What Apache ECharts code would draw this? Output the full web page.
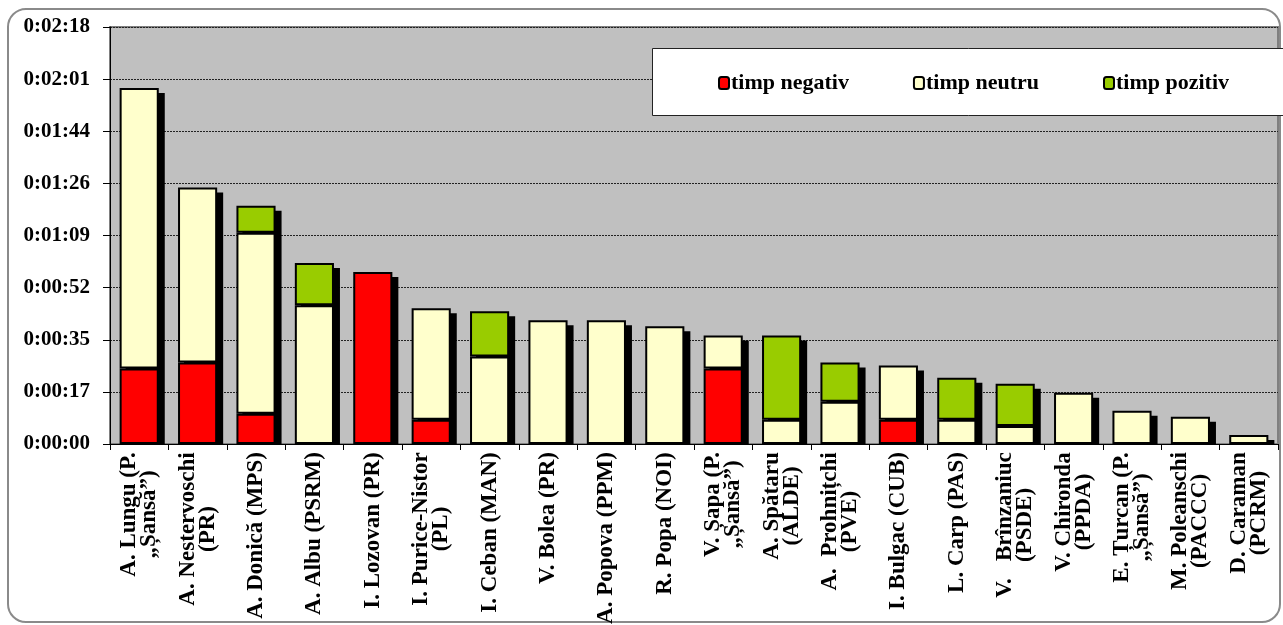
<!DOCTYPE html>
<html>
<head>
<meta charset="utf-8">
<script src="https://cdn.jsdelivr.net/npm/echarts@6/dist/echarts.min.js"></script>
<style>
html,body{margin:0;padding:0;background:#fff;}
#c{width:1283px;height:625px;}
</style>
</head>
<body>
<div id="c"></div>
<script>
const categories = ["A. Lungu (P.\n„Șansă”)", "A. Nestervoschi\n(PR)", "A. Donică (MPS)", "A. Albu (PSRM)", "I. Lozovan (PR)", "I. Purice-Nistor\n(PL)", "I. Ceban (MAN)", "V. Bolea (PR)", "A. Popova (PPM)", "R. Popa (NOI)", "V. Șapa (P.\n„Șansă”)", "A. Spătaru\n(ALDE)", "A.  Prohnițchi\n(PVE)", "I. Bulgac (CUB)", "L. Carp (PAS)", "V.   Brînzaniuc\n(PSDE)", "V. Chironda\n(PPDA)", "E. Țurcan (P.\n„Șansă”)", "M. Poleanschi\n(PACCC)", "D. Caraman\n(PCRM)"];
// seconds
const timpNegativ = [25, 27, 10, 0, 57, 8, 0, 0, 0, 0, 25, 0, 0, 8, 0, 0, 0, 0, 0, 0];
const timpNeutru  = [93, 58, 60, 46, 0, 37, 29, 41, 41, 39, 11, 8, 14, 18, 8, 6, 17, 11, 9, 3];
const timpPozitiv = [0, 0, 9, 14, 0, 0, 15, 0, 0, 0, 0, 28, 13, 0, 14, 14, 0, 0, 0, 0];
const yTickLabels = ["0:00:00", "0:00:17", "0:00:35", "0:00:52", "0:01:09", "0:01:26", "0:01:44", "0:02:01", "0:02:18"];
const seriesNames = ["timp negativ", "timp neutru", "timp pozitiv"];

const tickStep = 17.28; // Excel major unit (0.0002 day)
const FONT = "'Liberation Serif', 'Times New Roman', serif";
const BARW = 0.67;
const XFS = 23, XLH = 20;

const totals = categories.map((_, i) => timpNegativ[i] + timpNeutru[i] + timpPozitiv[i]);
const nz = arr => arr.map(v => v === 0 ? '-' : v);

// measure label widths so wrapped lines can be centred on each other
const mctx = document.createElement('canvas').getContext('2d');
mctx.font = 'bold ' + XFS + "px 'Liberation Serif'";
const rich = {};
categories.forEach((c, i) => {
  const w = Math.ceil(Math.max(...c.split('\n').map(s => mctx.measureText(s).width)));
  rich['w' + i] = {width: w, align: 'center', fontFamily: FONT, fontWeight: 'bold', fontSize: XFS, lineHeight: XLH, color: '#000'};
});

const chart = echarts.init(document.getElementById('c'), null, {renderer: 'canvas'});
const barStyle = c => ({color: c, borderColor: '#000', borderWidth: 2});

chart.setOption({
  animation: false,
  backgroundColor: '#fff',
  graphic: [
    {
      type: 'rect', z: -10, silent: true,
      shape: {x: 8, y: 9, width: 1272, height: 613, r: 18},
      style: {fill: '#fff', stroke: '#8a8a8a', lineWidth: 2}
    },
    {
      type: 'rect', z: 50, silent: true,
      shape: {x: 652.5, y: 48.5, width: 660, height: 67},
      style: {fill: '#fff', stroke: '#222', lineWidth: 1}
    }
  ],
  grid: {
    left: 110, top: 27, right: 5, bottom: 181,
    outerBoundsMode: 'none', containLabel: false,
    show: true, backgroundColor: '#C0C0C0', borderColor: '#808080', borderWidth: 2
  },
  legend: {
    data: seriesNames, z: 60,
    left: 718, top: 72,
    padding: 0,
    itemGap: 64, itemWidth: 10, itemHeight: 12,
    textStyle: {fontFamily: FONT, fontWeight: 'bold', fontSize: 22, color: '#000', padding: [3, 0, 0, -3]}
  },
  xAxis: {
    type: 'category', data: categories,
    axisLine: {lineStyle: {color: '#000', width: 1}},
    axisTick: {show: true, length: 6, lineStyle: {color: '#000'}},
    axisLabel: {
      interval: 0, rotate: 90, margin: 8, color: '#000',
      fontFamily: FONT, fontWeight: 'bold', fontSize: XFS, lineHeight: XLH,
      formatter: (v, i) => v.split('\n').map(s => '{w' + i + '|' + s + '}').join('\n'),
      rich: rich
    }
  },
  yAxis: {
    type: 'value', min: 0, max: tickStep * 8, interval: tickStep,
    axisLine: {show: true, lineStyle: {color: '#000', width: 1}},
    axisTick: {show: true, length: 7, lineStyle: {color: '#000'}},
    axisLabel: {
      margin: 20, color: '#000', fontFamily: FONT, fontWeight: 'bold', fontSize: 21,
      formatter: v => yTickLabels[Math.round(v / tickStep)]
    },
    splitLine: {show: true, lineStyle: {color: '#222', width: 1, type: [2, 1]}}
  },
  series: [
    {
      type: 'custom', name: 'shadow', z: 1, silent: true,
      data: totals.map((t, i) => [i, t]),
      encode: {x: 0, y: 1},
      renderItem: (params, api) => {
        const i = api.value(0), t = api.value(1);
        const top = api.coord([i, t]);
        const base = api.coord([i, 0]);
        const bw = api.size([1, 0])[0] * BARW;
        return {
          type: 'rect',
          shape: {x: top[0] - bw / 2 + 6, y: top[1] + 5, width: bw, height: Math.max(0, base[1] - top[1] - 5)},
          style: {fill: '#000'}
        };
      }
    },
    {name: seriesNames[0], type: 'bar', stack: 't', z: 3, barWidth: (BARW * 100) + '%', data: nz(timpNegativ), itemStyle: barStyle('#FF0000')},
    {name: seriesNames[1], type: 'bar', stack: 't', z: 3, barWidth: (BARW * 100) + '%', data: nz(timpNeutru), itemStyle: barStyle('#FFFFCC')},
    {name: seriesNames[2], type: 'bar', stack: 't', z: 3, barWidth: (BARW * 100) + '%', data: nz(timpPozitiv), itemStyle: barStyle('#99CC00')}
  ]
});
</script>
</body>
</html>
